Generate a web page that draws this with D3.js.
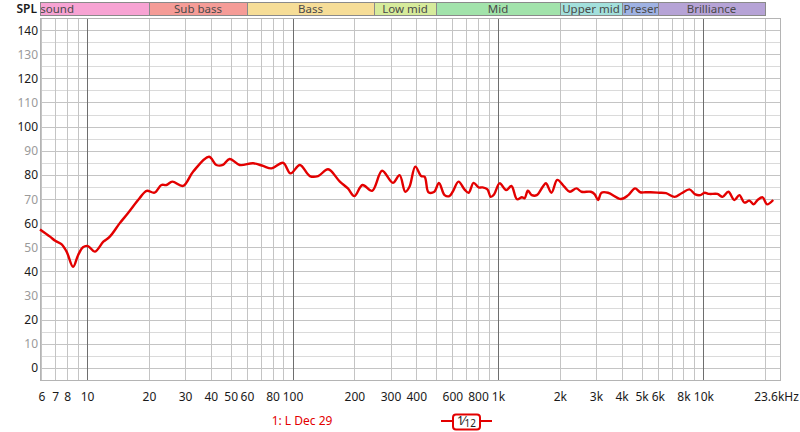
<!DOCTYPE html>
<html><head><meta charset="utf-8">
<script src="https://cdn.jsdelivr.net/npm/d3@7"></script>
<style>
html,body{margin:0;padding:0;background:#fff;}
svg{display:block;font-family:"Noto Sans",sans-serif;}
</style></head>
<body><svg id="c" width="800" height="432"></svg>
<script>
// ---- data ----
const freqHz = [5.9,6.6,7.0,7.5,7.95,8.55,9.05,9.55,10.1,10.9,
 12.0,12.9,14.4,15.8,18.0,19.5,21.3,23.0,24.3,26.0,
 29.3,32.8,39.2,42.6,45.8,49.4,55.3,64.3,71.9,78.9,
 90,97.8,108.6,121.4,133.2,149,170,186,200,219,
 244,273,308,332,354,371,396,423,440,459,
 490,516,550,580,602,643,687,720,761,805,
 841,889,922,957,1019,1097,1163,1238,1308,1348,
 1398,1461,1545,1662,1713,1822,1944,2102,2240,2410,
 2550,2830,2960,3070,3190,3435,3970,4310,4650,4930,
 5220,5530,6090,6580,7240,7830,8550,9130,9670,10140,
 10670,11700,12400,13230,14150,14970,15830,16740,17560,18360,
 19430,20390,21870];
const splDb = [57.4,54.4,52.7,51.3,48.2,41.9,46.8,50.0,50.5,48.2,
 52.3,54.4,59.9,64.1,70.3,73.4,72.6,75.8,75.8,77.2,
 75.4,81.3,87.5,84.1,84.1,86.6,84.1,84.8,83.7,82.7,
 85.0,80.6,84.1,79.5,79.5,82.3,77.2,74.4,71.2,75.8,
 73.4,81.7,76.7,79.9,73.0,75.1,83.4,79.5,79.2,72.8,
 73.0,76.7,71.6,71.2,73.0,77.2,74.0,72.6,76.7,74.8,
 74.8,74.0,70.9,71.9,76.5,73.7,75.4,69.9,70.7,70.3,
 73.4,71.6,71.6,75.4,76.5,72.6,77.9,75.1,73.0,74.4,
 73.0,73.0,71.9,69.6,72.6,72.6,70.0,71.6,74.4,72.8,
 72.8,72.8,72.6,72.4,70.9,72.4,74.0,71.9,71.6,72.6,
 72.1,72.1,70.9,73.0,69.6,71.6,68.5,69.3,67.8,69.6,
 70.7,67.8,69.6];
const xTickValues = [6,7,8,10,20,30,40,50,60,80,100,200,300,400,600,800,1000,2000,3000,4000,5000,6000,8000,10000,23600];
const xTickLabels = ["6","7","8","10","20","30","40","50","60","80","100","200","300","400","600","800","1k","2k","3k","4k","5k","6k","8k","10k","23.6kHz"];
const yTickValues = [0,10,20,30,40,50,60,70,80,90,100,110,120,130,140];
const bandNames = ["Infrasound","Sub bass","Bass","Low mid","Mid","Upper mid","Presence","Brilliance"];
const bandStart = [5.9,20,60,250,500,2000,4000,6000];
const bandEnd = [20,60,250,500,2000,4000,6000,20000];
const bandColors = ["#f7a3d3","#f59c97","#f6dd97","#d6eb9b","#a2e3ab","#a3e0dc","#9fb2e3","#b6a3d6"];
const legendLabel = "1: L Dec 29";

// ---- layout ----
const svg = d3.select("#c");
const L=40, R=780, T=18, B=380;
const x = d3.scaleLog().domain([5.9,23600]).range([L,R]);
const y = d3.scaleLinear().domain([-5,145]).range([B,T]);

// horizontal grid
const hLines = d3.range(-5,146,5);
svg.append("g").selectAll("line").data(hLines).join("line")
  .attr("x1",L).attr("x2",R)
  .attr("y1",d=>Math.round(y(d))+0.5).attr("y2",d=>Math.round(y(d))+0.5)
  .attr("stroke",d=>d%10===0?"#c4c4c4":"#dadada").attr("stroke-width",1);

// vertical grid
const vLines=[];
[1,10,100,1000,10000].forEach(dec=>{for(let m=1;m<10;m++){const f=dec*m; if(f>=6&&f<=20000) vLines.push(f);}});
svg.append("g").selectAll("line").data(vLines).join("line")
  .attr("y1",T).attr("y2",B)
  .attr("x1",d=>Math.round(x(d))+0.5).attr("x2",d=>Math.round(x(d))+0.5)
  .attr("stroke",d=>[10,100,1000,10000].includes(d)?"#6e6e6e":"#c4c4c4").attr("stroke-width",1);

// border
svg.append("rect").attr("x",L+0.5).attr("y",T+0.5).attr("width",R-L).attr("height",B-T)
  .attr("fill","none").attr("stroke","#b4b4b4");

// bands
const defs = svg.append("defs");
const bands = bandNames.map((n,i)=>({name:n,s:bandStart[i],e:bandEnd[i],c:bandColors[i],i}));
bands.forEach(b=>{
  const x0=Math.round(x(b.s)), x1=Math.round(x(b.e));
  defs.append("clipPath").attr("id","bc"+b.i).append("rect").attr("x",x0+1).attr("y",3).attr("width",x1-x0-1).attr("height",12);
  svg.append("rect").attr("x",x0+0.5).attr("y",2.5).attr("width",x1-x0).attr("height",13)
    .attr("fill",b.c).attr("stroke","#8a8a8a").attr("stroke-width",1);
  const t = svg.append("text").attr("clip-path","url(#bc"+b.i+")")
    .attr("y",13).attr("font-size",11.5).attr("fill","#4a4a4a").text(b.name);
  if(b.i===0){ t.attr("x",74).attr("text-anchor","end"); }
  else if(b.name==="Presence"){ t.attr("x",x0+1.5).attr("text-anchor","start"); }
  else { t.attr("x",(x0+x1)/2).attr("text-anchor","middle"); }
});

// y labels
svg.append("g").selectAll("text").data(yTickValues).join("text")
  .attr("x",38).attr("y",d=>y(d)+4.5).attr("text-anchor","end")
  .attr("font-size",12).attr("fill",d=>d%20===0?"#1a1a1a":"#9a9a9a").text(d=>d);
svg.append("text").attr("x",37).attr("y",13).attr("text-anchor","end")
  .attr("font-size",12).attr("font-weight","600").attr("fill","#1a1a1a").text("SPL");

// x axis labels
const xAxis = d3.axisBottom(x).tickValues(xTickValues)
  .tickFormat((d,i)=>xTickLabels[i]).tickSize(0).tickPadding(12);
const xg = svg.append("g").attr("transform",`translate(0,${B})`).call(xAxis);
xg.select(".domain").remove();
xg.selectAll("text").attr("font-size",12).attr("fill","#1a1a1a").attr("font-family","Noto Sans, sans-serif");
xg.selectAll(".tick").filter(d=>d===23600).select("text").attr("dx",-4);

// curve
const data = freqHz.map((f,i)=>({f,v:splDb[i]}));
const line = d3.line().x(d=>x(d.f)).y(d=>y(d.v)).curve(d3.curveCatmullRom.alpha(0.5));
svg.append("path").datum(data).attr("d",line)
  .attr("fill","none").attr("stroke","#e30000").attr("stroke-width",2.4).attr("stroke-linejoin","round");

// legend
svg.append("text").attr("x",302).attr("y",425).attr("text-anchor","middle")
  .attr("font-size",12).attr("fill","#e30000").text(legendLabel);
const lg = svg.append("g");
lg.append("line").attr("x1",441).attr("x2",453).attr("y1",421).attr("y2",421).attr("stroke","#e30000").attr("stroke-width",2);
lg.append("line").attr("x1",480).attr("x2",492).attr("y1",421).attr("y2",421).attr("stroke","#e30000").attr("stroke-width",2);
lg.append("rect").attr("x",453).attr("y",414.5).attr("width",27).attr("height",15).attr("rx",3)
  .attr("fill","#fff").attr("stroke","#e30000").attr("stroke-width",2);
const bt = lg.append("text").attr("x",457).attr("y",425).attr("font-size",12).attr("fill","#222");
bt.append("tspan").text("1");
bt.append("tspan").attr("dx",-1).text("\u2044");
bt.append("tspan").attr("font-size",10).attr("dy",2).text("12");
</script></body></html>
